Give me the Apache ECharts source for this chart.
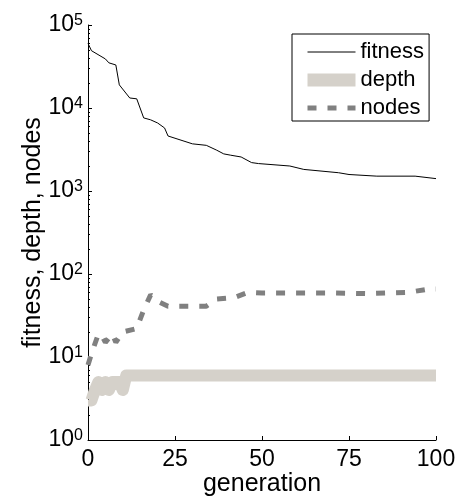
<!DOCTYPE html>
<html>
<head>
<meta charset="utf-8">
<script src="https://cdn.jsdelivr.net/npm/echarts@6/dist/echarts.min.js"></script>
<style>
  html, body { margin: 0; padding: 0; background: #fff; }
  #main { width: 462px; height: 497px; }
</style>
</head>
<body>
<div id="main"></div>
<script>
// values
const fitnessGen = [0, 1, 5, 6, 8, 9, 12, 14, 16, 18, 20, 22, 23, 30, 34, 37, 39, 41, 44, 47, 49, 58, 62, 72, 75, 83, 94, 100];
const fitnessVal = [60000, 49000, 39000, 35000, 33000, 19000, 13200, 12900, 7600, 7200, 6600, 5750, 4600, 3700, 3550, 3100, 2800, 2700, 2570, 2200, 2140, 2000, 1820, 1660, 1580, 1510, 1510, 1410];

const depthGen = [0, 1, 2, 3, 4, 5, 6, 7, 8, 9, 10, 11, 100];
const depthVal = [3, 3, 4, 5, 4, 5, 4, 5, 5, 5, 4, 6, 6];

const nodesGen = [0, 1, 3, 4, 5, 7, 8, 10, 14, 16, 18, 20, 23, 34, 37, 42, 46, 50, 60, 70, 80, 92, 98, 100];
const nodesVal = [8, 11, 19, 18, 15, 19, 15, 20, 22, 37, 56, 47, 41, 41, 50, 52, 60, 59, 59, 59, 58, 60, 66, 66];

const xTicks = [0, 25, 50, 75, 100];
const yDecades = [1, 10, 100, 1000, 10000, 100000];

// log minor ticks 2..9 in each decade
const yMinor = [];
for (let d = 0; d < yDecades.length - 1; d++) {
  for (let k = 2; k <= 9; k++) yMinor.push(k * yDecades[d]);
}

const pairs = (xs, ys) => xs.map((x, i) => [x, ys[i]]);
const font = 'Liberation Sans, Arial, Helvetica, sans-serif';
const hidden = { color: 'rgba(0,0,0,0)', borderWidth: 0 };

const chart = echarts.init(document.getElementById('main'));
chart.setOption({
  animation: false,
  backgroundColor: '#fff',
  textStyle: { fontFamily: font },
  grid: { left: 88, right: 26, top: 25, bottom: 57, containLabel: false, outerBoundsMode: 'none' },
  legend: {
    orient: 'vertical',
    left: 292, top: 34,
    padding: [7, 5, 2, 9],
    borderColor: '#000', borderWidth: 1, borderRadius: 0,
    itemWidth: 48, itemHeight: 22, itemGap: 6,
    itemStyle: hidden,
    textStyle: { fontSize: 22, lineHeight: 22, color: '#000', fontFamily: font },
    data: [
      { name: 'fitness', itemStyle: hidden, lineStyle: { width: 1 } },
      { name: 'depth', itemStyle: hidden, lineStyle: { width: 13 } },
      { name: 'nodes', itemStyle: hidden, lineStyle: { width: 5 } }
    ]
  },
  xAxis: {
    type: 'value', min: 0, max: 100, interval: 25,
    name: 'generation', nameLocation: 'middle', nameGap: 32, nameMoveOverlap: false,
    nameTextStyle: { fontSize: 25, color: '#000' },
    axisLine: { lineStyle: { color: '#000', width: 1 } },
    axisTick: { inside: true, length: 4, lineStyle: { color: '#000' }, customValues: xTicks },
    axisLabel: { fontSize: 23, color: '#000', margin: 8, customValues: xTicks },
    splitLine: { show: false }
  },
  yAxis: [{
    type: 'log', logBase: 10, min: 1, max: 100000,
    name: 'fitness, depth, nodes', nameLocation: 'middle', nameGap: 42, nameMoveOverlap: false,
    nameTextStyle: { fontSize: 25, color: '#000' },
    axisLine: { show: true, lineStyle: { color: '#000', width: 1 } },
    axisTick: { show: true, inside: true, length: 4, lineStyle: { color: '#000' }, customValues: yDecades },
    axisLabel: {
      margin: 5, customValues: yDecades,
      formatter: v => '{b|10}{e|' + Math.round(Math.log10(v)) + '}',
      rich: {
        b: { fontSize: 23, color: '#000', fontFamily: font },
        e: { fontSize: 16, color: '#000', fontFamily: font, padding: [0, 0, 8, 0] }
      }
    },
    splitLine: { show: false }
  }, {
    type: 'log', logBase: 10, min: 1, max: 100000, position: 'left',
    axisLine: { show: false },
    axisTick: { show: true, inside: true, length: 2, lineStyle: { color: '#000' }, customValues: yMinor },
    axisLabel: { show: false },
    splitLine: { show: false }
  }],
  series: [{
    name: 'fitness', type: 'line', symbol: 'none', yAxisIndex: 0,
    data: pairs(fitnessGen, fitnessVal),
    lineStyle: { color: '#000', width: 1 },
    itemStyle: { color: '#000' },
    z: 4
  }, {
    name: 'depth', type: 'line', symbol: 'none', yAxisIndex: 0,
    data: pairs(depthGen, depthVal),
    lineStyle: { color: '#d5d1ca', width: 12, join: 'round', cap: 'butt' },
    itemStyle: { color: '#d5d1ca' },
    z: 2
  }, {
    name: 'nodes', type: 'line', symbol: 'none', yAxisIndex: 0,
    data: pairs(nodesGen, nodesVal),
    lineStyle: { color: '#808080', width: 5, type: [9, 11], cap: 'butt' },
    itemStyle: { color: '#808080' },
    z: 3
  }]
});
</script>
</body>
</html>
